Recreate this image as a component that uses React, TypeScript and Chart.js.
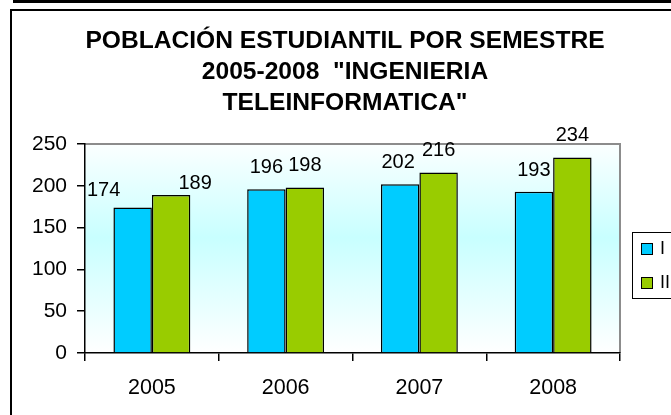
import React, { useEffect, useRef } from 'react';
import { Chart, registerables } from 'chart.js';

Chart.register(...registerables);

// ---- data ----
const years = ['2005', '2006', '2007', '2008'];
const seriesNames = ['I', 'II'];
const semesterI = [174, 196, 202, 193];
const semesterII = [189, 198, 216, 234];
const yTicks = [0, 50, 100, 150, 200, 250];
const titleLines = ['POBLACIÓN ESTUDIANTIL POR SEMESTRE', '2005-2008  "INGENIERIA', 'TELEINFORMATICA"'];

// ---- style ----
const FONT = '"Liberation Sans", Arial, sans-serif';
const colors = ['#00CCFF', '#99CC00'];
// small manual label nudges (dx, dy) as in the original chart
const labelNudges = [
  [[-29, 4], [0, 0], [-2, 0], [0, 0]],
  [[24, 10], [0, 0], [0, 0], [0, 0]],
];

const decor = {
  id: 'decor',
  beforeDraw(chart: any) {
    const { ctx, chartArea: a, width, height } = chart;
    ctx.save();
    ctx.fillStyle = '#ffffff';
    ctx.fillRect(0, 0, width, height);
    // outer frame
    ctx.fillStyle = '#000';
    ctx.fillRect(13, 0, width - 13, 3);
    ctx.strokeStyle = '#000';
    ctx.lineWidth = 2;
    ctx.beginPath();
    ctx.moveTo(11, 10);
    ctx.lineTo(11, height);
    ctx.stroke();
    ctx.beginPath();
    ctx.moveTo(10, 10);
    ctx.lineTo(width, 10);
    ctx.stroke();
    // plot background gradient
    const g = ctx.createLinearGradient(0, a.top, 0, a.bottom);
    g.addColorStop(0, '#fbffff');
    g.addColorStop(0.45, '#c8ffff');
    g.addColorStop(1, '#ffffff');
    ctx.fillStyle = g;
    ctx.fillRect(a.left, a.top, a.right - a.left, a.bottom - a.top);
    // gray top/right border
    ctx.strokeStyle = '#8c8c8c';
    ctx.lineWidth = 2;
    ctx.beginPath();
    ctx.moveTo(a.left, a.top);
    ctx.lineTo(a.right, a.top);
    ctx.lineTo(a.right, a.bottom);
    ctx.stroke();
    ctx.restore();
  },
  afterDraw(chart: any) {
    const { ctx } = chart;
    ctx.save();
    // title
    ctx.fillStyle = '#000';
    ctx.font = `bold 24.6px ${FONT}`;
    ctx.textAlign = 'center';
    ctx.textBaseline = 'middle';
    titleLines.forEach((t, i) => ctx.fillText(t, 345, 41 + i * 31));
    // data labels
    ctx.font = `20px ${FONT}`;
    chart.data.datasets.forEach((ds: any, i: number) => {
      const meta = chart.getDatasetMeta(i);
      meta.data.forEach((el: any, j: number) => {
        const [dx, dy] = labelNudges[i][j];
        ctx.fillText(String(ds.data[j]), el.x + dx, el.y - 21.5 + dy);
      });
    });
    // legend
    ctx.strokeStyle = '#000';
    ctx.lineWidth = 1;
    ctx.strokeRect(632.5, 232.5, 80, 66);
    ctx.font = `18px ${FONT}`;
    ctx.textAlign = 'left';
    chart.data.datasets.forEach((ds: any, i: number) => {
      const y = 243 + i * 34;
      ctx.fillStyle = ds.backgroundColor;
      ctx.fillRect(641, y, 12, 12);
      ctx.strokeRect(641.5, y + 0.5, 11, 11);
      ctx.fillStyle = '#000';
      ctx.fillText(ds.label, 660, y + 6.5);
    });
    ctx.restore();
  },
};

export default function App() {
  const ref = useRef<HTMLCanvasElement | null>(null);
  useEffect(() => {
    document.body.style.margin = '0';
    const canvas = ref.current;
    if (!canvas) return;
    const chart = new Chart(canvas, {
      type: 'bar',
      data: {
        labels: years,
        datasets: [
          { label: seriesNames[0], data: semesterI, backgroundColor: colors[0], borderColor: '#000', borderWidth: 1.5, categoryPercentage: 0.575, barPercentage: 1 },
          { label: seriesNames[1], data: semesterII, backgroundColor: colors[1], borderColor: '#000', borderWidth: 1.5, categoryPercentage: 0.575, barPercentage: 1 },
        ],
      },
      options: {
        responsive: false,
        animation: false,
        layout: { padding: { top: 144, right: 51, left: 0, bottom: 0 } },
        plugins: { legend: { display: false }, title: { display: false }, tooltip: { enabled: false } },
        scales: {
          x: {
            grid: { display: true, drawOnChartArea: false, drawTicks: true, tickLength: 8, color: '#000', offset: true, lineWidth: 1.5 },
            border: { display: true, color: '#000', width: 1.5 },
            ticks: { font: { size: 21.5, family: FONT }, color: '#000', padding: 14 },
            afterFit: (s: any) => { s.height = 62; s.paddingLeft = 0; s.paddingRight = 0; },
          },
          y: {
            min: yTicks[0],
            max: yTicks[yTicks.length - 1],
            afterBuildTicks: (s: any) => { s.ticks = yTicks.map((v) => ({ value: v })); },
            grid: { drawOnChartArea: false, drawTicks: true, tickLength: 8, color: '#000', lineWidth: 1.5 },
            border: { display: true, color: '#000', width: 1.5 },
            ticks: { font: { size: 21, family: FONT }, color: '#000', padding: 10 },
            afterFit: (s: any) => { s.width = 85; s.paddingTop = 0; s.paddingBottom = 0; },
          },
        },
      },
      plugins: [decor],
    });
    return () => chart.destroy();
  }, []);
  return (
    <div style={{ width: 671, height: 415, overflow: 'hidden' }}>
      <canvas ref={ref} width={671} height={415} style={{ display: 'block' }} />
    </div>
  );
}
